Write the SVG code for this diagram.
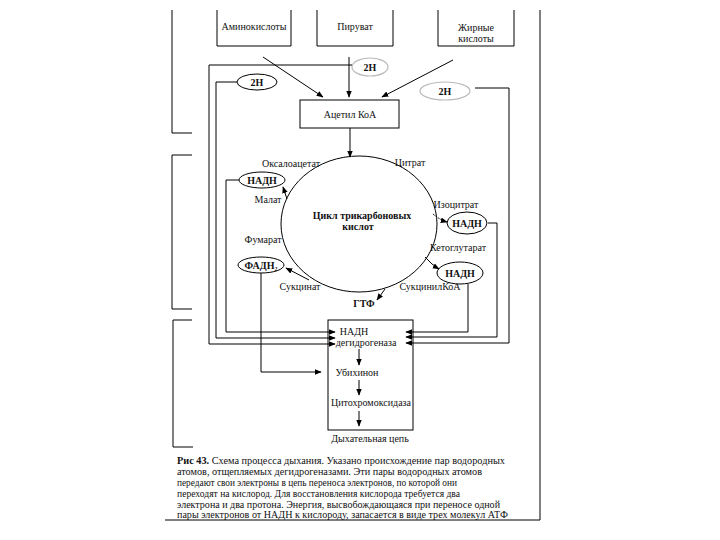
<svg xmlns="http://www.w3.org/2000/svg" width="720" height="540" viewBox="0 0 720 540">
<defs>
<marker id="ah" viewBox="0 0 10 10" refX="9" refY="5" markerWidth="7" markerHeight="7" orient="auto" markerUnits="userSpaceOnUse"><path d="M0,1 L10,5 L0,9 z" fill="#000"/></marker>
</defs>
<style>
text{font-family:"Liberation Serif","Times New Roman",serif;font-size:10px;fill:#111;text-anchor:middle}
.b{font-weight:bold}
.ln{fill:none;stroke:#000;stroke-width:1}
.g{fill:none;stroke:#bbb;stroke-width:1.2}
.e{fill:#fff;stroke:#000;stroke-width:1}
.cap{text-anchor:start;font-size:10px}
</style>
<rect width="720" height="540" fill="#fff"/>
<g id="frame" class="ln">
<path d="M172,10 V133 H192"/>
<path d="M192,155 H172 V309 H192"/>
<path d="M192,320 H173 V447 H193"/>
<path d="M540,10 V520"/>
<path d="M165,520 H540"/>
</g>
<g id="aminoacids"><path class="ln" d="M217,10 V46 H291 V10"/><text x="254" y="30">Аминокислоты</text></g>
<g id="pyruvate"><path class="ln" d="M317,10 V46 H393 V10"/><text x="355" y="30">Пируват</text></g>
<g id="fattyacids"><path class="ln" d="M438,10 V46 H514 V10"/><text x="476" y="31">Жирные</text><text x="476" y="42">кислоты</text></g>
<g id="acetylcoa"><rect class="ln" x="300" y="100" width="99" height="28"/><text x="350" y="118">Ацетил КоА</text></g>
<g id="h2top"><ellipse class="g" cx="370" cy="67" rx="18" ry="9"/><text class="b" x="370" y="71">2Н</text></g>
<g id="h2left"><ellipse class="e" cx="257" cy="82" rx="20" ry="8"/><text class="b" x="257" y="86">2Н</text></g>
<g id="h2right"><ellipse class="g" cx="445" cy="91" rx="25" ry="9"/><text class="b" x="445" y="95">2Н</text></g>
<g id="cycle"><ellipse class="ln" cx="359" cy="224" rx="78" ry="68"/><text class="b" x="362" y="219">Цикл трикарбоновых</text><text class="b" x="358" y="230">кислот</text></g>
<g id="labels">
<text x="291" y="167">Оксалоацетат</text>
<text x="410" y="166">Цитрат</text>
<text x="268" y="203">Малат</text>
<text x="456" y="208">Изоцитрат</text>
<text x="263" y="243">Фумарат</text>
<text x="458" y="251">Кетоглутарат</text>
<text x="300" y="290">Сукцинат</text>
<text x="430" y="290">СукцинилКоА</text>
<text class="b" x="364" y="307">ГТФ</text>
</g>
<g id="nadh1"><ellipse class="e" cx="262" cy="180" rx="23" ry="8"/><text class="b" x="262" y="184">НАДН</text></g>
<g id="nadh2"><ellipse class="e" cx="467" cy="223" rx="20" ry="11"/><text class="b" x="467" y="227">НАДН</text></g>
<g id="nadh3"><ellipse class="e" cx="460" cy="273" rx="23" ry="11"/><text class="b" x="460" y="277">НАДН</text></g>
<g id="fadh2"><ellipse class="e" cx="261" cy="265" rx="23" ry="8"/><text class="b" x="261" y="269">ФАДН₂</text></g>
<g id="resp"><rect class="ln" x="328" y="320" width="85" height="110"/>
<text x="354" y="335">НАДН</text><text x="366" y="346">дегидрогеназа</text>
<text x="357" y="376">Убихинон</text><text x="371" y="406">Цитохромоксидаза</text>
<text x="370" y="442">Дыхательная цепь</text></g>
<g id="connectors" class="ln">
<path d="M263,57 L323,97" marker-end="url(#ah)"/>
<path d="M349,57 V97" marker-end="url(#ah)"/>
<path d="M453,60 L382,97" marker-end="url(#ah)"/>
<path d="M350,128 V157" marker-end="url(#ah)"/>
<path d="M287,199 L283,187" marker-end="url(#ah)"/>
<path d="M433,214 Q440,220 447,222" stroke-dasharray="2,1" marker-end="url(#ah)"/>
<path d="M425,257 Q432,265 439,269" marker-end="url(#ah)"/>
<path d="M385,289 L377,300" marker-end="url(#ah)"/>
<path d="M309,280 L286,268" marker-end="url(#ah)"/>
<path d="M352,65 H209 V344 H335" marker-end="url(#ah)"/>
<path d="M237,82 H216 V338 H335" marker-end="url(#ah)"/>
<path d="M239,180 H226 V332 H335" marker-end="url(#ah)"/>
<path d="M261,273 V372 H321" marker-end="url(#ah)"/>
<path d="M475,88 H509 V343 H406" marker-end="url(#ah)"/>
<path d="M488,223 H497 V337 H406" marker-end="url(#ah)"/>
<path d="M468,284 V332 H406" marker-end="url(#ah)"/>
<path d="M359,349 V365" marker-end="url(#ah)"/>
<path d="M359,380 V395" marker-end="url(#ah)"/>
<path d="M359,411 V426" marker-end="url(#ah)"/>
</g>
<g id="caption">
<text class="cap" x="177" y="464" textLength="328" lengthAdjust="spacingAndGlyphs"><tspan font-weight="bold">Рис 43.</tspan> Схема процесса дыхания. Указано происхождение пар водородных</text>
<text class="cap" x="177" y="475" textLength="305" lengthAdjust="spacingAndGlyphs">атомов, отщепляемых дегидрогеназами. Эти пары водородных атомов</text>
<text class="cap" x="177" y="486" textLength="280" lengthAdjust="spacingAndGlyphs">передают свои электроны в цепь переноса электронов, по которой они</text>
<text class="cap" x="177" y="497" textLength="283" lengthAdjust="spacingAndGlyphs">переходят на кислород. Для восстановления кислорода требуется два</text>
<text class="cap" x="177" y="508" textLength="323" lengthAdjust="spacingAndGlyphs">электрона и два протона. Энергия, высвобождающаяся при переносе одной</text>
<text class="cap" x="177" y="518" textLength="331" lengthAdjust="spacingAndGlyphs">пары электронов от НАДН к кислороду, запасается в виде трех молекул АТФ</text>
</g>
</svg>
